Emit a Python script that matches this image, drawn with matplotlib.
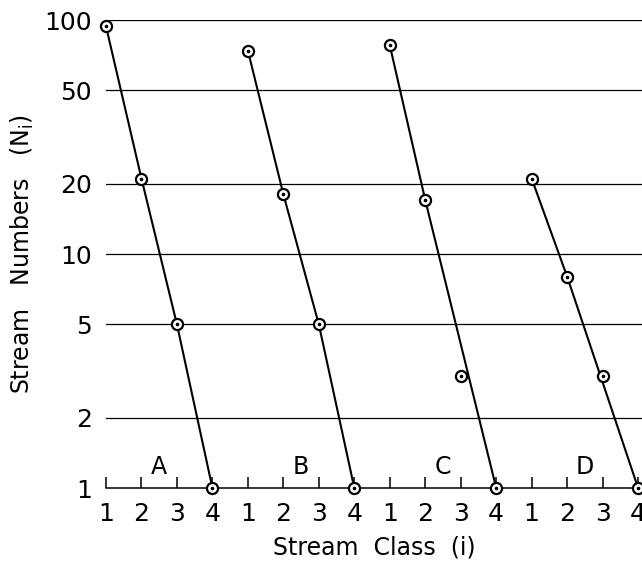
import matplotlib.pyplot as plt
import numpy as np

# stream numbers per stream class for four basins
groups = ['A', 'B', 'C', 'D']
classes = [1, 2, 3, 4]
N_A = [94, 21, 5, 1]
N_B = [74, 18, 5, 1]
N_C = [78, 17, 3, 1]
N_D = [21, 8, 3, 1]
# classes the drawn line passes through
line_A = [1, 2, 3, 4]
line_B = [1, 2, 3, 4]
line_C = [1, 2, 4]
line_D = [1, 2, 4]

yticks = [1, 2, 5, 10, 20, 50, 100]

fig = plt.figure(figsize=(6.42, 5.62), dpi=100)
ax = fig.add_axes([106/642, 1-488/562, 536/642, 468/562])
ax.set_yscale('log')
ax.set_ylim(1, 100)
ax.set_xlim(0, 15.11)

# horizontal rules
for y in yticks[1:]:
    ax.axhline(y, color='black', lw=0.9, zorder=1)

data = [N_A, N_B, N_C, N_D]
lines = [line_A, line_B, line_C, line_D]
for g, (vals, ln) in enumerate(zip(data, lines)):
    x = np.array(classes) - 1 + 4 * g
    lx = [c - 1 + 4 * g for c in ln]
    ly = [vals[c - 1] for c in ln]
    ax.plot(lx, ly, color='black', lw=1.5, zorder=2, clip_on=False)
    ax.plot(x, vals, 'o', ms=8, mfc='white', mec='black', mew=1.6, zorder=3, clip_on=False)
    ax.plot(x, vals, 'o', ms=1.6, color='black', zorder=4, clip_on=False)
    ax.text(4 * g + 1.5, 1.09, groups[g], ha='center', va='bottom', fontsize=17)

ax.set_yticks(yticks)
ax.set_yticklabels([str(v) for v in yticks])
ax.minorticks_off()
ax.set_xticks(range(16))
ax.set_xticklabels([str(c) for c in classes] * 4)
ax.tick_params(axis='y', length=0, labelsize=18, pad=10)
ax.tick_params(axis='x', direction='in', length=8, width=1.1, labelsize=18, pad=10)

for s in ['top', 'right', 'left']:
    ax.spines[s].set_visible(False)
ax.spines['bottom'].set_linewidth(1.1)

ax.set_xlabel('Stream  Class  (i)', fontsize=17, labelpad=7)
ax.set_ylabel('Stream   Numbers   (N$_\\mathregular{i}$)', fontsize=17, labelpad=6)

fig.savefig('out.png', dpi=100)
